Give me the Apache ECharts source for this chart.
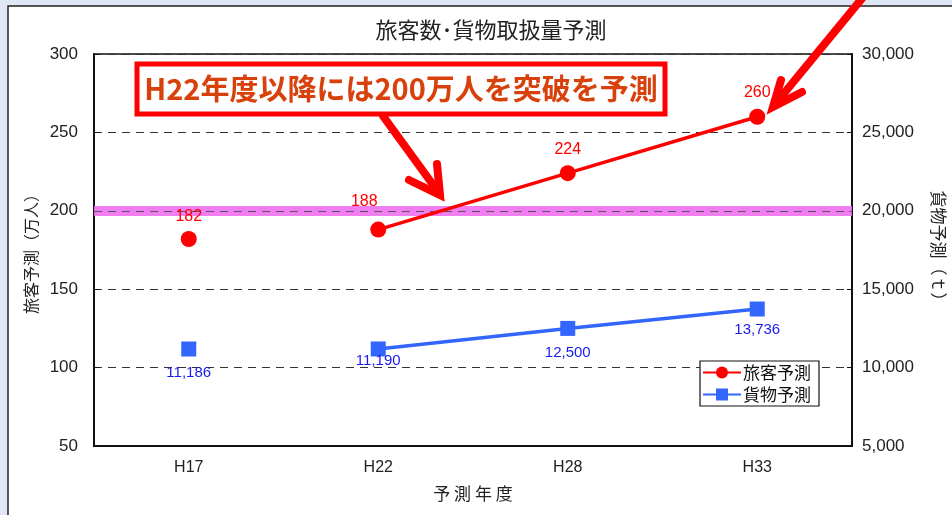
<!DOCTYPE html>
<html><head><meta charset="utf-8">
<script src="https://cdn.jsdelivr.net/npm/echarts@6/dist/echarts.min.js"></script>
<style>html,body{margin:0;padding:0;background:#dfe7f4;}#c{width:952px;height:515px;}</style>
</head><body><div id="c"></div>
<script>
const categories = ['H17', 'H22', 'H28', 'H33'];
const passengerValues = [182, 188, 224, 260];
const cargoValues = [11186, 11190, 12500, 13736];
const leftTicks = { min: 50, max: 300, interval: 50 };
const rightTicks = { min: 5000, max: 30000, interval: 5000 };
const thresholdValue = 200;

const FONT = '"Noto Sans CJK JP", "Liberation Sans", Arial, sans-serif';
const NUMFONT = '"Liberation Sans", Arial, sans-serif';
const fmt = v => String(v).replace(/\B(?=(\d{3})+(?!\d))/g, ',');

// first year is shown as an isolated point, the remaining years are connected
const passLine = passengerValues.map((v, i) => i === 0 ? '-' : v);
const passSingle = passengerValues.map((v, i) => i === 0 ? v : '-');
const cargoLine = cargoValues.map((v, i) => i === 0 ? '-' : v);
const cargoSingle = cargoValues.map((v, i) => i === 0 ? v : '-');

const RED = '#ff0000', BLUE = '#3366ff', LBLUE = '#1a1aee';

const chart = echarts.init(document.getElementById('c'), null, { renderer: 'canvas' });
chart.setOption({
  animation: false,
  backgroundColor: 'transparent',
  textStyle: { fontFamily: FONT },
  title: {
    text: '旅客数･貨物取扱量予測', left: 486, textAlign: 'center', top: 14,
    textStyle: { fontSize: 22, fontWeight: 'normal', color: '#222', fontFamily: FONT }
  },
  grid: {
    left: 94, right: 100, top: 54, bottom: 69, containLabel: false, outerBoundsMode: 'none',
    show: true, borderColor: '#111', borderWidth: 1.5, backgroundColor: '#fff'
  },
  legend: {
    orient: 'vertical', left: 700, top: 361,
    data: ['旅客予測', '貨物予測'],
    backgroundColor: '#fff', borderColor: '#111', borderWidth: 1.2, borderRadius: 0,
    padding: [3, 8, 3, 2], itemGap: 5, itemWidth: 38, itemHeight: 15,
    textStyle: { fontSize: 17, color: '#111', fontFamily: FONT, padding: [0, 0, 0, -3] }
  },
  xAxis: {
    type: 'category', data: categories, boundaryGap: true,
    name: '予 測 年 度', nameLocation: 'middle', nameGap: 39,
    nameTextStyle: { fontSize: 17, color: '#222', fontFamily: FONT },
    axisLine: { lineStyle: { color: '#111', width: 2 } },
    axisTick: { inside: true, length: 5, lineStyle: { color: '#111' } },
    axisLabel: { fontSize: 16, color: '#222', margin: 14, fontFamily: NUMFONT }
  },
  yAxis: [{
    type: 'value', min: leftTicks.min, max: leftTicks.max, interval: leftTicks.interval,
    name: '旅客予測（万人）', nameLocation: 'middle', nameRotate: 90, nameGap: 50,
    nameTextStyle: { fontSize: 16, color: '#222', fontFamily: FONT },
    axisLine: { show: true, lineStyle: { color: '#111', width: 2 } },
    axisTick: { show: true, inside: true, length: 5, lineStyle: { color: '#111' } },
    axisLabel: { fontSize: 17, color: '#222', margin: 16, fontFamily: NUMFONT },
    splitLine: { show: true, lineStyle: { color: '#333', type: [8, 6], width: 1 } }
  }, {
    type: 'value', min: rightTicks.min, max: rightTicks.max, interval: rightTicks.interval,
    name: '貨物予測（ｔ）', nameLocation: 'middle', nameRotate: -90, nameGap: 78,
    nameTextStyle: { fontSize: 17, color: '#222', fontFamily: FONT },
    axisLine: { show: true, lineStyle: { color: '#111', width: 2 } },
    axisTick: { show: true, inside: true, length: 5, lineStyle: { color: '#111' } },
    axisLabel: { fontSize: 17, color: '#222', margin: 10, formatter: fmt, fontFamily: NUMFONT },
    splitLine: { show: false }
  }],
  series: [{
    name: '旅客予測', type: 'line', yAxisIndex: 0, data: passLine,
    symbol: 'circle', symbolSize: 16, z: 5,
    lineStyle: { color: RED, width: 3.5 }, itemStyle: { color: RED, opacity: 1 },
    label: { show: true, position: 'top', distance: 8, color: RED, fontSize: 16, fontFamily: NUMFONT },
    labelLayout: p => p.dataIndex === 1 ? { dx: -14, dy: -4 } : {},
    markLine: {
      silent: true, symbol: 'none', label: { show: false },
      data: [
        { yAxis: thresholdValue, lineStyle: { color: '#ee70ee', width: 10, type: 'solid', opacity: 0.9 } },
        { yAxis: thresholdValue, lineStyle: { color: '#555', width: 1, type: [8, 6] } }
      ]
    }
  }, {
    name: '旅客予測', type: 'scatter', yAxisIndex: 0, data: passSingle,
    symbol: 'circle', symbolSize: 16, itemStyle: { color: RED, opacity: 1 }, z: 5,
    label: { show: true, position: 'top', distance: 6, color: RED, fontSize: 16, fontFamily: NUMFONT }
  }, {
    name: '貨物予測', type: 'line', yAxisIndex: 1, data: cargoLine,
    symbol: 'rect', symbolSize: 15, z: 4,
    lineStyle: { color: BLUE, width: 3.5 }, itemStyle: { color: BLUE, opacity: 1 },
    label: {
      show: true, position: 'bottom', distance: 9, color: LBLUE, fontSize: 15,
      formatter: p => fmt(p.value), fontFamily: NUMFONT
    },
    labelLayout: p => p.dataIndex === 1 ? { dy: -12 } : (p.dataIndex === 3 ? { dy: -3 } : {})
  }, {
    name: '貨物予測', type: 'scatter', yAxisIndex: 1, data: cargoSingle,
    symbol: 'rect', symbolSize: 15, itemStyle: { color: BLUE, opacity: 1 }, z: 4,
    label: {
      show: true, position: 'bottom', distance: 9, color: LBLUE, fontSize: 15,
      formatter: p => fmt(p.value), fontFamily: NUMFONT
    }
  }],
  graphic: [
    { type: 'rect', z: -10, silent: true, shape: { x: 8, y: 6, width: 950, height: 515 },
      style: { fill: '#fff', stroke: '#222', lineWidth: 1.5 } },
    { type: 'rect', z: 100, shape: { x: 137, y: 64, width: 528, height: 50 },
      style: { fill: '#fff', stroke: '#ff0000', lineWidth: 5 } },
    { type: 'text', z: 101, x: 401, y: 89,
      style: { text: 'H22年度以降には200万人を突破を予測', fill: '#d8400c', font: 'bold 29px ' + FONT,
        textAlign: 'center', textVerticalAlign: 'middle' } },
    { type: 'polyline', z: 102, shape: { points: [[383, 116], [439, 193]] },
      style: { stroke: '#ff0000', lineWidth: 8, lineCap: 'round', fill: null } },
    { type: 'polyline', z: 102, shape: { points: [[409, 180], [440, 195], [437, 164]] },
      style: { stroke: '#ff0000', lineWidth: 8, lineCap: 'round', lineJoin: 'miter', fill: null } },
    { type: 'polyline', z: 102, shape: { points: [[864, -4], [776, 103]] },
      style: { stroke: '#ff0000', lineWidth: 8, lineCap: 'round', fill: null } },
    { type: 'polyline', z: 102, shape: { points: [[781, 80], [773, 107], [802, 92]] },
      style: { stroke: '#ff0000', lineWidth: 8, lineCap: 'round', lineJoin: 'miter', fill: null } }
  ]
});
</script>
</body></html>
